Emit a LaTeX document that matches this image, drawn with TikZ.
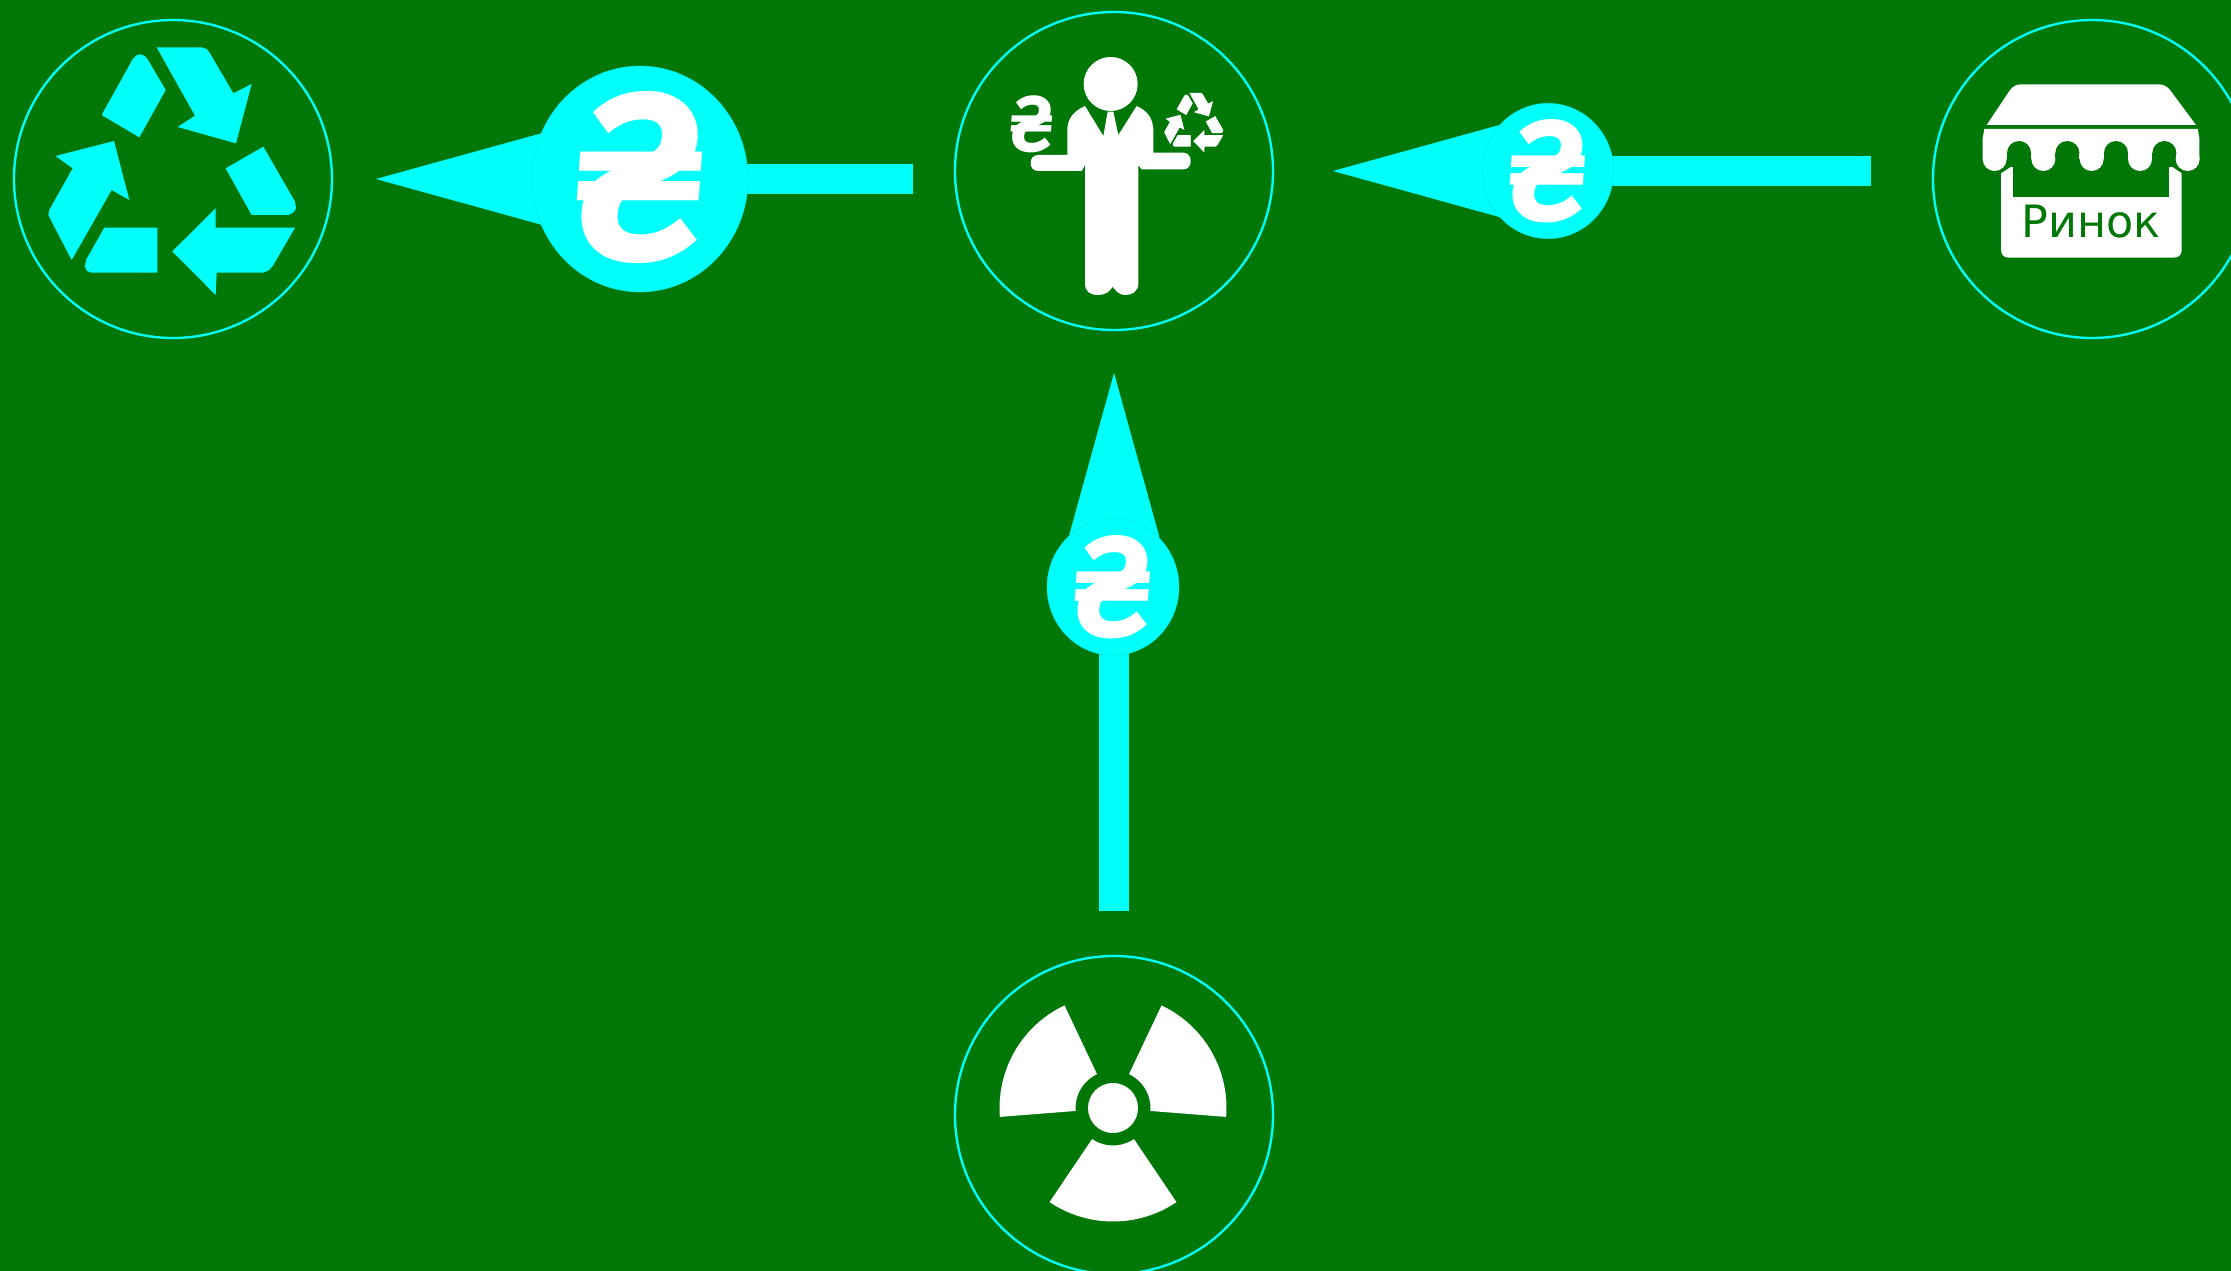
\documentclass[tikz,border=0pt]{standalone}
\usepackage{fontspec}
\usetikzlibrary{shapes.geometric,arrows.meta}
\newfontfamily\hryvfont{Fira Sans}
\newfontfamily\labfont{DejaVu Sans}
\definecolor{bgreen}{RGB}{0,119,7}
\definecolor{bcyan}{RGB}{0,255,250}
\definecolor{bedge}{RGB}{0,228,225}
\tikzset{
  ring/.style={circle,draw=bcyan,line width=0.7mm,minimum size=95.4mm,inner sep=0pt},
  coin/.style={ellipse,fill=bcyan,draw=bedge,line width=0.12mm,inner sep=0pt},
  sign/.style={text=white,inner sep=0pt,xslant=0.07,xscale=0.93,transform shape},
  flow/.style={draw=bcyan,line width=9mm,-{Triangle[length=51mm,width=28.2mm,line width=0pt,fill=bcyan]}},
}
\newcommand{\recyclepath}[1]{%
  \path[#1] (305,345)--(398,178)--(408,167)--(420,163)--(433,167)--(443,178)--(497,270)--(418,412)--cycle;
  \path[#1] (470,142)--(605,142)--(620,147)--(630,160)--(700,280)--(755,252)--(708,430)--(533,381)--(585,347)--cycle;
  \path[#1] (790,440)--(885,605)--(888,625)--(880,638)--(865,645)--(755,645)--(677,505)--cycle;
  \path[#1] (885,683)--(820,795)--(808,810)--(790,818)--(650,818)--(647,885)--(517,754)--(647,625)--(647,683)--cycle;
  \path[#1] (313,683)--(472,683)--(472,818)--(272,818)--(260,812)--(255,800)--(258,780)--cycle;
  \path[#1] (167,468)--(342,423)--(388,600)--(335,570)--(215,780)--(145,645)--(148,630)--(218,505)--cycle;
}
\newcommand{\blade}[2]{%
  \fill[white] plot[domain=#1:#2,samples=24] ({113.5*cos(\x)},{-113.5*sin(\x)}) -- plot[domain=#2:#1,samples=12] ({37.5*cos(\x)},{-37.5*sin(\x)}) -- cycle;
}
\begin{document}
\begin{tikzpicture}[x=0.3mm,y=-0.3mm]
\useasboundingbox (0,0) rectangle (2231,1270);
\fill[bgreen] (-5,-5) rectangle (2240,1280);
% rings
\node[ring] (recycle) at (173,179) {};
\node[ring] (man) at (1114,171) {};
\node[ring] (market) at (2092,179) {};
\node[ring] (rad) at (1114,1115) {};
% arrows
\coordinate (a1s) at (913,179); \coordinate (a1t) at (376,179);
\coordinate (a2s) at (1871,171); \coordinate (a2t) at (1333,171);
\coordinate (a3s) at (1114,911); \coordinate (a3t) at (1114,373);
\draw[flow] (a1s) -- (a1t);
\draw[flow] (a2s) -- (a2t);
\draw[flow] (a3s) -- (a3t);
% coins
\node[coin,minimum width=64.8mm,minimum height=67.8mm] (coin1) at (640,179) {};
\node[sign,font=\hryvfont\bfseries\fontsize{208}{208}\selectfont] (sign1) at (640,178) {₴};
\node[coin,minimum width=39.4mm,minimum height=40.6mm] (coin2) at (1548,171) {};
\node[sign,font=\hryvfont\bfseries\fontsize{125}{125}\selectfont] (sign2) at (1548,171) {₴};
\node[coin,minimum width=39.6mm,minimum height=41mm] (coin3) at (1113,587) {};
\node[sign,font=\hryvfont\bfseries\fontsize{125}{125}\selectfont] (sign3) at (1113,587) {₴};
% recycle icon
\begin{scope}[scale=0.33333]
\recyclepath{fill=bcyan}
\end{scope}
% man
\begin{scope}[shift={(940,0)},scale=0.33333]
\fill[white] (512,252) circle (81);
\fill[white] (382,465)--(382,385)..controls (385,350) and (405,332)..(435,318)--(490,408)--(503,335)--(520,335)--(535,405)--(590,318)..controls (620,332) and (636,350)..(640,385)--(640,458)--(730,458)..controls (745,458) and (752,470)..(752,483)..controls (752,497) and (745,508)..(730,508)--(605,508)--(595,495)--(595,850)..controls (595,875) and (575,885)..(557,885)..controls (535,885) and (525,870)..(518,860)..controls (510,875) and (495,885)..(475,885)..controls (450,885) and (435,875)..(435,850)--(435,495)--(425,513)--(295,513)..controls (280,513) and (272,503)..(272,489)..controls (272,475) and (280,465)..(295,465)--cycle;
\end{scope}
\begin{scope}[shift={(1194,122.5)},scale=0.0780,shift={(-520,-515)}]
\recyclepath{fill=white,draw=white,line width=0.25mm}
\end{scope}
\node[sign,font=\hryvfont\bfseries\fontsize{69}{69}\selectfont] (sign4) at (1032.5,124) {₴};
% market
\begin{scope}[shift={(1920,10)},scale=0.33333]
\fill[white] (243,490)--(243,718)..controls (243,735) and (251,743)..(268,743)--(760,743)..controls (777,743) and (785,735)..(785,718)--(785,490)--(750,466)--(280,466)--cycle;
\fill[bgreen] (280,440) rectangle (748,562);
\fill[white] (200,345)--(270,240)..controls (280,228) and (290,223)..(305,223)--(715,223)..controls (730,223) and (740,228)..(750,240)--(828,345)--cycle;
\fill[white] (188,447)--(188,385)--(193,357)--(833,357)--(838,385)--(838,447)--cycle;
\foreach \cx in {297,442,588,733}{
  \fill[bgreen] (\cx-36,429) rectangle (\cx+36,470);
  \fill[bgreen] (\cx,429) circle (36);
}
\foreach \cx in {224,370,515,660,803}{
  \fill[white] (\cx,447) circle (36);
}
\end{scope}
\node[text=bgreen,inner sep=0pt,font=\labfont\fontsize{38}{38}\selectfont] (marketlabel) at (2091,222) {Ринок};
% radiation
\begin{scope}[shift={(1113,1108)}]
\fill[white] (0,0) circle (25);
\blade{115.3}{184.5}
\blade{-4.5}{64.7}
\blade{236}{304}
\end{scope}
\end{tikzpicture}
\end{document}
